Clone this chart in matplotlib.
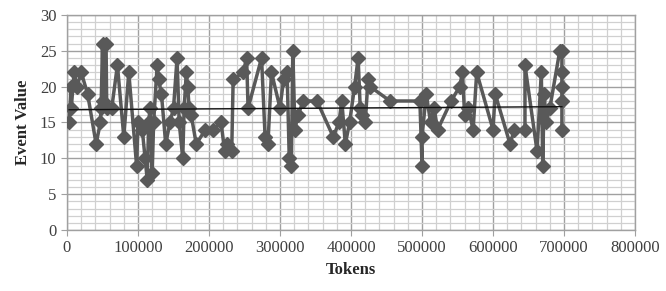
"""
Event value vs. tokens: scatter with straight lines + linear trend line.
"""

import matplotlib
matplotlib.use("Agg")
import matplotlib.pyplot as plt
from matplotlib.ticker import MultipleLocator
import numpy as np

# ── data ──────────────────────────────────────────────────────────────────────
TOKENS = [
    3000, 6000, 6000, 10000, 14000, 20000, 29000, 41000, 47000, 48000,
    50000, 51000, 55000, 56000, 63000, 71000, 80000, 87000, 98000, 100000,
    106000, 110000, 113000, 115000, 117000, 120000, 122000, 127000, 129000, 133000,
    139000, 145000, 150000, 155000, 158000, 163000, 165000, 168000, 170000, 172000,
    175000, 182000, 195000, 205000, 217000, 222000, 226000, 232000, 234000, 248000,
    253000, 255000, 274000, 279000, 283000, 288000, 300000, 305000, 310000, 313000,
    316000, 318000, 321000, 325000, 333000, 352000, 375000, 383000, 387000, 392000,
    398000, 405000, 410000, 413000, 416000, 420000, 424000, 427000, 455000, 497000,
    500000, 500000, 506000, 512000, 517000, 522000, 541000, 553000, 557000, 560000,
    565000, 572000, 577000, 600000, 603000, 624000, 630000, 645000, 645000, 662000,
    668000, 670000, 672000, 675000, 680000, 694000, 697000, 697000, 697000, 697000,
    697000,
]
EVENT_VALUE = [
    15, 20, 17, 22, 20, 22, 19, 12, 15, 17,
    26, 18, 26, 17, 17, 23, 13, 22, 9, 15,
    14, 10, 7, 15, 17, 8, 15, 23, 21, 19,
    12, 15, 17, 24, 15, 10, 17, 22, 20, 17,
    16, 12, 14, 14, 15, 11, 12, 11, 21, 22,
    24, 17, 24, 13, 12, 22, 17, 21, 22, 10,
    9, 25, 14, 16, 18, 18, 13, 15, 18, 12,
    15, 20, 24, 17, 16, 15, 21, 20, 18, 18,
    9, 13, 19, 15, 17, 14, 18, 20, 22, 16,
    17, 14, 22, 14, 19, 12, 14, 14, 23, 11,
    22, 9, 19, 15, 17, 25, 25, 22, 20, 18,
    14,
]

LINE_COLOR = "#595959"
TICK_COLOR = "#404040"
LABEL_COLOR = "#262626"
FONT = "Liberation Serif"


def main() -> None:
    x = np.array(TOKENS, dtype=float)
    y = np.array(EVENT_VALUE, dtype=float)

    fig = plt.figure(figsize=(6.66, 2.91), dpi=100)
    ax = fig.add_axes([0.1006, 0.2096, 0.8529, 0.7389])

    # grid: major + minor
    ax.xaxis.set_major_locator(MultipleLocator(100000))
    ax.xaxis.set_minor_locator(MultipleLocator(20000))
    ax.yaxis.set_major_locator(MultipleLocator(5))
    ax.yaxis.set_minor_locator(MultipleLocator(1))
    ax.grid(True, which="minor", color="#d0d0d0", linewidth=0.9)
    ax.grid(True, which="major", color="#a0a0a0", linewidth=1.0)
    ax.set_axisbelow(True)

    ax.plot(x, y, color=LINE_COLOR, linewidth=2.5, marker="D",
            markersize=6.8, markerfacecolor=LINE_COLOR,
            markeredgecolor=LINE_COLOR, zorder=3)

    # linear trend line
    k, b = np.polyfit(x, y, 1)
    xt = np.array([x.min(), x.max()])
    ax.plot(xt, k * xt + b, color="#111111", linewidth=1.0, zorder=4)

    ax.set_xlim(0, 800000)
    ax.set_ylim(0, 30)

    for s in ax.spines.values():
        s.set_color("#a0a0a0")
        s.set_linewidth(1.0)

    ax.tick_params(axis="both", which="major", length=4, color="#a0a0a0",
                   labelcolor=TICK_COLOR, labelsize=12)
    ax.tick_params(axis="both", which="minor", length=0)
    for lab in ax.get_xticklabels() + ax.get_yticklabels():
        lab.set_fontfamily(FONT)
    ax.xaxis.set_major_formatter(matplotlib.ticker.FuncFormatter(lambda v, p: f"{v:.0f}"))

    ax.set_xlabel("Tokens", fontfamily=FONT, fontweight="bold",
                  fontsize=12, color=LABEL_COLOR, labelpad=4)
    ax.set_ylabel("Event Value", fontfamily=FONT, fontweight="bold",
                  fontsize=12, color=LABEL_COLOR, labelpad=6)

    fig.savefig("out.png", dpi=100)
    plt.close(fig)


if __name__ == "__main__":
    main()
